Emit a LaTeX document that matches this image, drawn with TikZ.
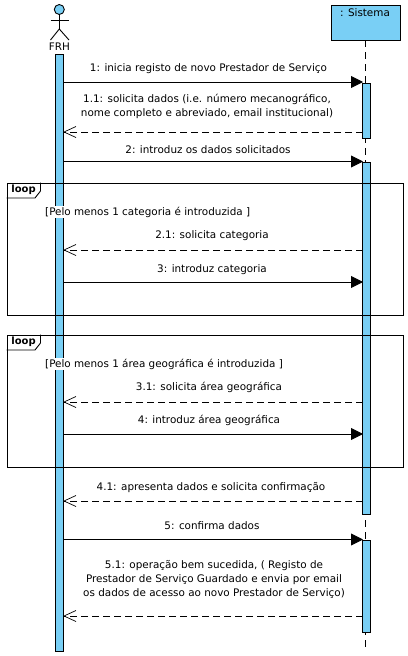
\documentclass[tikz,border=0pt]{standalone}
\usepackage{fontspec}
\setmainfont{DejaVu Sans}
\usetikzlibrary{arrows.meta}
\definecolor{bar}{HTML}{79CFF5}
\pgfarrowsdeclare{openvee}{openvee}{\pgfarrowsleftextend{-12pt}\pgfarrowsrightextend{0.5pt}}{%
 \pgfsetdash{}{0pt}\pgfsetlinewidth{.7pt}\pgfsetmiterjoin
 \pgfpathmoveto{\pgfpoint{-12pt}{5.5pt}}%
 \pgfpathlineto{\pgfpoint{0pt}{0pt}}%
 \pgfpathlineto{\pgfpoint{-12pt}{-5.5pt}}%
 \pgfusepathqstroke}
\tikzset{
 barbox/.style={draw=black,fill=bar,line width=.9pt,minimum width=7.6pt,inner sep=0pt,anchor=north},
 lifeln/.style={line width=.9pt,dash pattern=on 7pt off 5pt},
 sync/.style={line width=.9pt,-{Triangle[length=12pt,width=12pt,fill=black]}},
 reply/.style={line width=.9pt,dash pattern=on 7pt off 4pt,arrows=-openvee},
 frame/.style={draw=black,line width=.9pt},
 msg/.style={font=\fontsize{10.4}{14}\selectfont,align=center,inner sep=0pt},
 guard/.style={font=\fontsize{10.4}{12}\selectfont,fill=white,inner sep=1pt,anchor=west},
 looptag/.style={font=\fontsize{10}{10}\selectfont\bfseries,inner sep=0pt}
}
\begin{document}
\begin{tikzpicture}[x=1pt,y=-1pt]
\useasboundingbox (0,0) rectangle (407,656);
% lifelines
\node[draw=black,fill=bar,line width=.9pt,minimum width=69pt,minimum height=35pt,inner sep=0pt,anchor=north] (sys) at (366,4.5) {};
\node[msg,anchor=center] (syslabel) at (365,12.5) {: Sistema};
\coordinate (sysend) at (365.5,650);
\draw[lifeln] (sys.south -| sysend) -- (sysend);
% actor
\node[draw=black,fill=bar,circle,line width=.9pt,minimum size=10pt,inner sep=0pt] (head) at (59.3,9.5) {};
\coordinate (hip) at (59.3,29);
\draw[line width=.9pt] (head.south) -- (hip);
\draw[line width=.9pt] (50.5,20) -- (69,20);
\draw[line width=.9pt] (50.5,40) -- (hip) -- (69,40);
\node[msg,anchor=center] (frh) at (59.5,47) {FRH};
% activations
\node[barbox,minimum height=597pt] (A) at (59.5,53.5) {};
\node[barbox,minimum height=55pt] (S1) at (366.5,82.5) {};
\node[barbox,minimum height=352pt] (S2) at (366.5,161.5) {};
\node[barbox,minimum height=92pt] (S3) at (366.5,539.5) {};
% frames
\node[frame,minimum width=396pt,minimum height=132pt,inner sep=0pt,anchor=north west] (L1) at (6.5,182.5) {};
\draw[frame] (L1.north west) ++(0,15.5) coordinate (t1) -- ++(28.5,0) -- ++(5.5,-7) -- ++(0,-8.5);
\node[looptag] (l1t) at (23.5,190) {loop};
\node[guard] (g1) at (44,212) {[Pelo menos 1 categoria é introduzida ]};
\node[frame,minimum width=396pt,minimum height=132pt,inner sep=0pt,anchor=north west] (L2) at (6.5,334.5) {};
\draw[frame] (L2.north west) ++(0,15.5) coordinate (t2) -- ++(28.5,0) -- ++(5.5,-7) -- ++(0,-8.5);
\node[looptag] (l2t) at (23.5,342) {loop};
\node[guard] (g2) at (44,364) {[Pelo menos 1 área geográfica é introduzida ]};
% messages
\coordinate (a1) at (63.5,82); \coordinate (b1) at (363,82);
\draw[sync] (a1) -- (b1);
\node[msg] (m1) at (208.5,69) {1: inicia registo de novo Prestador de Serviço};
\coordinate (a11) at (63.5,132); \coordinate (b11) at (363,132);
\draw[reply] (b11) -- (a11);
\node[msg] (m11) at (207,106.5) {1.1: solicita dados (i.e. número mecanográfico,\\nome completo e abreviado, email institucional)};
\coordinate (a2) at (63.5,161.5); \coordinate (b2) at (363,161.5);
\draw[sync] (a2) -- (b2);
\node[msg] (m2) at (208,150) {2: introduz os dados solicitados};
\coordinate (a21) at (63.5,250); \coordinate (b21) at (363,250);
\draw[reply] (b21) -- (a21);
\node[msg] (m21) at (212,236) {2.1: solicita categoria};
\coordinate (a3) at (63.5,282); \coordinate (b3) at (363,282);
\draw[sync] (a3) -- (b3);
\node[msg] (m3) at (212,269.5) {3: introduz categoria};
\coordinate (a31) at (63.5,402); \coordinate (b31) at (363,402);
\draw[reply] (b31) -- (a31);
\node[msg] (m31) at (209,387) {3.1: solicita área geográfica};
\coordinate (a4) at (63.5,434); \coordinate (b4) at (363,434);
\draw[sync] (a4) -- (b4);
\node[msg] (m4) at (209,420.5) {4: introduz área geográfica};
\coordinate (a41) at (63.5,501); \coordinate (b41) at (363,501);
\draw[reply] (b41) -- (a41);
\node[msg] (m41) at (211,488) {4.1: apresenta dados e solicita confirmação};
\coordinate (a5) at (63.5,539.5); \coordinate (b5) at (363,539.5);
\draw[sync] (a5) -- (b5);
\node[msg] (m5) at (212,526) {5: confirma dados};
\coordinate (a51) at (63.5,616); \coordinate (b51) at (363,616);
\draw[reply] (b51) -- (a51);
\node[msg] (m51) at (214,579) {5.1: operação bem sucedida, ( Registo de\\Prestador de Serviço Guardado e envia por email\\os dados de acesso ao novo Prestador de Serviço)};
\end{tikzpicture}
\end{document}
